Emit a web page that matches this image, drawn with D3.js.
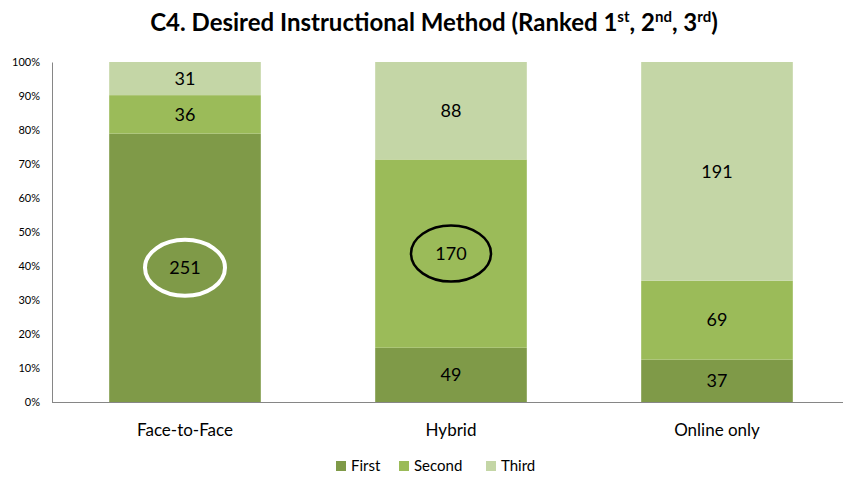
<!DOCTYPE html>
<html><head><meta charset="utf-8">
<script src="https://cdn.jsdelivr.net/npm/d3@7"></script>
<style>body{margin:0;background:#fff}svg{display:block}</style>
</head><body><svg id="c" width="843" height="479"></svg>
<script>
const categories = ["Face-to-Face", "Hybrid", "Online only"];
const seriesNames = ["First", "Second", "Third"];
const first = [251, 49, 37];
const second = [36, 170, 69];
const third = [31, 88, 191];
const yTicks = [0, 0.1, 0.2, 0.3, 0.4, 0.5, 0.6, 0.7, 0.8, 0.9, 1.0];
const colors = ["#7F9A48", "#9BBB59", "#C4D6A6"];
const highlighted = [{cat: "Face-to-Face", series: "First", stroke: "#fff", w: 4}, {cat: "Hybrid", series: "Second", stroke: "#000", w: 2.5}];

const font = "Lato, 'Open Sans', sans-serif";
const svg = d3.select("#c");
const m = {l: 52, r: -7, t: 62, b: 77};
const W = 843, H = 479;
const x = d3.scaleBand().domain(categories).range([m.l, W - m.r]).paddingInner(0.43).paddingOuter(0.215);
const y = d3.scaleLinear().domain([0, 1]).range([H - m.b, m.t]);

const rows = categories.map((c, i) => {
  const vals = [first[i], second[i], third[i]];
  const tot = d3.sum(vals);
  const o = {cat: c};
  seriesNames.forEach((s, j) => o[s] = vals[j] / tot);
  o.raw = vals;
  return o;
});
const stacked = d3.stack().keys(seriesNames)(rows);

// title
const title = svg.append("text").attr("x", 434).attr("y", 31).attr("text-anchor", "middle")
  .attr("font-family", font).attr("font-weight", "bold").attr("font-size", 24).attr("fill", "#000");
title.append("tspan").text("C4. Desired Instructional Method (Ranked 1");
title.append("tspan").text("st").attr("dy", -9).attr("font-size", 15);
title.append("tspan").text(", 2").attr("dy", 9);
title.append("tspan").text("nd").attr("dy", -9).attr("font-size", 15);
title.append("tspan").text(", 3").attr("dy", 9);
title.append("tspan").text("rd").attr("dy", -9).attr("font-size", 15);
title.append("tspan").text(")").attr("dy", 9);

// bars
stacked.forEach((layer, j) => {
  svg.append("g").selectAll("rect").data(layer).join("rect")
    .attr("x", d => x(d.data.cat)).attr("width", x.bandwidth())
    .attr("y", d => y(d[1])).attr("height", d => y(d[0]) - y(d[1]))
    .attr("fill", colors[j]);
  svg.append("g").selectAll("text").data(layer).join("text")
    .attr("x", d => x(d.data.cat) + x.bandwidth() / 2)
    .attr("y", d => y((d[0] + d[1]) / 2)).attr("dy", "0.35em")
    .attr("text-anchor", "middle").attr("font-family", font).attr("font-size", 18).attr("fill", "#000")
    .text(d => d.data.raw[j]);
});

// ellipses
highlighted.forEach(h => {
  const j = seriesNames.indexOf(h.series);
  const d = stacked[j].find(e => e.data.cat === h.cat);
  svg.append("ellipse").attr("cx", x(h.cat) + x.bandwidth() / 2).attr("cy", y((d[0] + d[1]) / 2))
    .attr("rx", 40).attr("ry", 28).attr("fill", "none").attr("stroke", h.stroke).attr("stroke-width", h.w);
});

// axes
const ya = svg.append("g").attr("transform", `translate(${m.l},0)`)
  .call(d3.axisLeft(y).tickValues(yTicks).tickFormat(d3.format(".0%")).tickSize(0).tickPadding(12));
ya.select(".domain").attr("stroke", "#868686");
ya.selectAll("text").attr("font-family", font).attr("font-size", 11).attr("fill", "#000");

const xa = svg.append("g").attr("transform", `translate(0,${H - m.b})`)
  .call(d3.axisBottom(x).tickSize(0).tickPadding(22));
xa.select(".domain").attr("stroke", "#868686").attr("d", `M${m.l},0.5H${W}`);
xa.selectAll("text").attr("font-family", font).attr("font-size", 17).attr("fill", "#000");

// legend
const leg = svg.append("g");
const lx = [336, 399, 486];
seriesNames.forEach((s, i) => {
  leg.append("rect").attr("x", lx[i]).attr("y", 461).attr("width", 10).attr("height", 10).attr("fill", colors[i]);
  leg.append("text").attr("x", lx[i] + 15).attr("y", 466).attr("dy", "0.35em")
    .attr("font-family", font).attr("font-size", 15).attr("fill", "#000").text(s);
});
</script></body></html>
